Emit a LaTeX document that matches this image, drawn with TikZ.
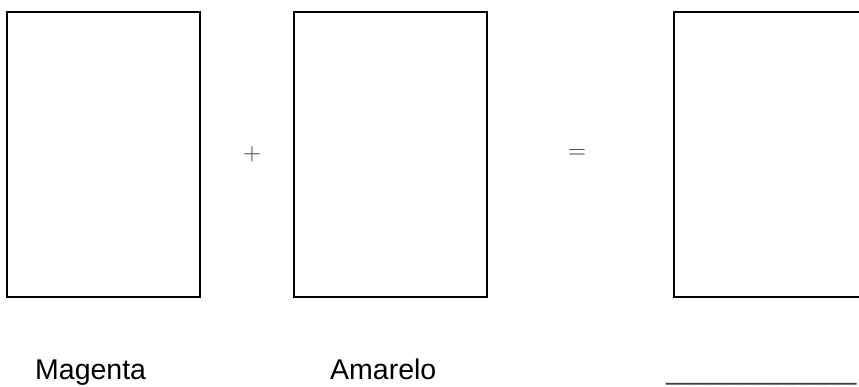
\documentclass[tikz,border=0pt]{standalone}
\usepackage{fontspec}
\setmainfont{Liberation Sans}
\begin{document}
\begin{tikzpicture}[
  x=1pt, y=-1pt,
  panel/.style={rectangle, draw, line width=1.3pt, minimum width=193pt,
                minimum height=285pt, inner sep=0pt},
  op/.style={font=\fontsize{24}{28}\selectfont, text=black!80},
  lbl/.style={anchor=base west, inner sep=0pt,
              font=\fontsize{28.5}{34}\selectfont}
]
  \useasboundingbox (0,0) rectangle (859,387);

  % Quadros
  \node[panel] (magenta) at (103.5,154.5) {};
  \node[panel] (amarelo) at (390.5,154.5) {};
  \node[panel] (resultado) at (770.5,154.5) {};

  % Operadores
  \node[op] (mais) at (252,154) {$+$};
  \node[op] (igual) at (577,154) {$=$};

  % Nomes das cores
  \node[lbl] (tmagenta) at (35,379) {Magenta};
  \node[lbl] (tamarelo) at (330,379) {Amarelo};
  \node[lbl, text=black!75] (tresultado) at (666,379)
    {\_\_\_\_\_\_\_\_\_\_\_\_};
\end{tikzpicture}
\end{document}
